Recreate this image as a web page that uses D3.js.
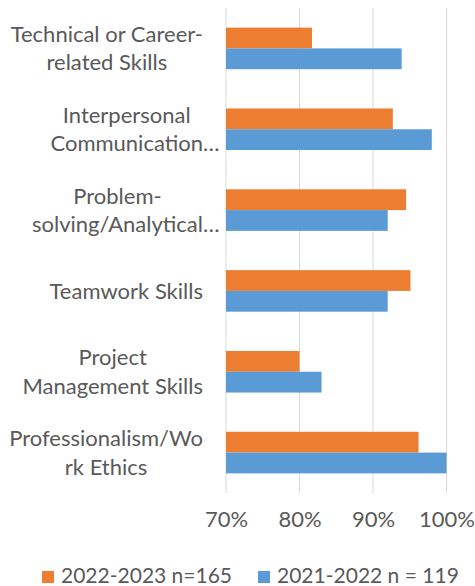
<!DOCTYPE html>
<html>
<head>
<meta charset="utf-8">
<script src="https://cdn.jsdelivr.net/npm/d3@7"></script>
<style>
  body { margin: 0; background: #fff; }
  text { font-family: Lato, "Open Sans", sans-serif; fill: #595959; }
</style>
</head>
<body>
<script>
// data
var categories = ["Technical or Career-related Skills", "Interpersonal Communication Skills",
  "Problem-solving/Analytical Skills", "Teamwork Skills", "Project Management Skills",
  "Professionalism/Work Ethics"];
// label lines as Excel wrapped / truncated them
var labelLines = [["Technical or Career-", "related Skills"], ["Interpersonal", "Communication…"],
  ["Problem-", "solving/Analytical…"], ["Teamwork Skills"], ["Project", "Management Skills"],
  ["Professionalism/Wo", "rk Ethics"]];
var seriesNames = ["2022-2023 n=165", "2021-2022 n = 119"];
var values2223 = [0.817, 0.927, 0.945, 0.951, 0.80, 0.962];
var values2122 = [0.939, 0.98, 0.92, 0.92, 0.83, 1.00];
var tickValues = [0.7, 0.8, 0.9, 1.0];

var width = 475, height = 586;
var colors = ["#ED7D31", "#5B9BD5"];
var fontSize = 22;

var svg = d3.select("body").append("svg")
  .attr("width", width)
  .attr("height", height);

var x = d3.scaleLinear().domain([0.7, 1.0]).range([226, 446.5]);
var y = d3.scaleBand().domain(categories).range([8, 493]).paddingInner(0.486).paddingOuter(0.243);
var ySub = d3.scaleBand().domain([0, 1]).range([0, y.bandwidth()]);

// gridlines
svg.append("g").selectAll("line")
  .data(tickValues)
  .enter().append("line")
  .attr("x1", function(d) { return x(d); })
  .attr("x2", function(d) { return x(d); })
  .attr("y1", 8).attr("y2", 493)
  .attr("stroke", "#D9D9D9")
  .attr("stroke-width", 1);

// tick labels
var xAxis = d3.axisBottom(x).tickValues(tickValues).tickFormat(d3.format(".0%")).tickSize(0);
var gx = svg.append("g").attr("transform", "translate(0,508)").call(xAxis);
gx.select(".domain").remove();
gx.selectAll("text").attr("font-size", fontSize).attr("font-family", null).attr("fill", "#595959");

// bars
var rows = categories.map(function(c, i) { return { cat: c, vals: [values2223[i], values2122[i]] }; });
var groups = svg.append("g").selectAll("g")
  .data(rows)
  .enter().append("g")
  .attr("transform", function(d) { return "translate(0," + y(d.cat) + ")"; });

groups.selectAll("rect")
  .data(function(d) { return d.vals; })
  .enter().append("rect")
  .attr("x", x(0.7))
  .attr("y", function(d, i) { return ySub(i); })
  .attr("width", function(d) { return x(d) - x(0.7); })
  .attr("height", ySub.bandwidth())
  .attr("fill", function(d, i) { return colors[i]; });

// category labels: block right-aligned, each line centred inside the block,
// the trailing ellipsis hangs out past the block
var labelRight = 203, lineH = 28.5;
var labels = svg.append("g");
categories.forEach(function(c, i) {
  var lines = labelLines[i];
  var g = labels.append("g");
  var texts = lines.map(function(l) {
    return g.append("text").attr("font-size", fontSize).text(l.replace("…", ""));
  });
  var widths = texts.map(function(t) { return t.node().getComputedTextLength(); });
  var blockW = d3.max(widths);
  var cx = labelRight - blockW / 2;
  var cy = y(c) + y.bandwidth() / 2;
  var top = cy - (lines.length - 1) * lineH / 2;
  texts.forEach(function(t, j) {
    t.text(lines[j])
      .attr("x", cx - widths[j] / 2)
      .attr("y", top + j * lineH)
      .attr("dy", "0.35em");
  });
});

// legend
var legendX = [42, 258];
var legend = svg.append("g").selectAll("g")
  .data(seriesNames)
  .enter().append("g")
  .attr("transform", function(d, i) { return "translate(" + legendX[i] + ",571)"; });
legend.append("rect")
  .attr("width", 12).attr("height", 12)
  .attr("fill", function(d, i) { return colors[i]; });
legend.append("text")
  .attr("x", 19).attr("y", 11.5)
  .attr("font-size", 21)
  .text(function(d) { return d; });
</script>
</body>
</html>
